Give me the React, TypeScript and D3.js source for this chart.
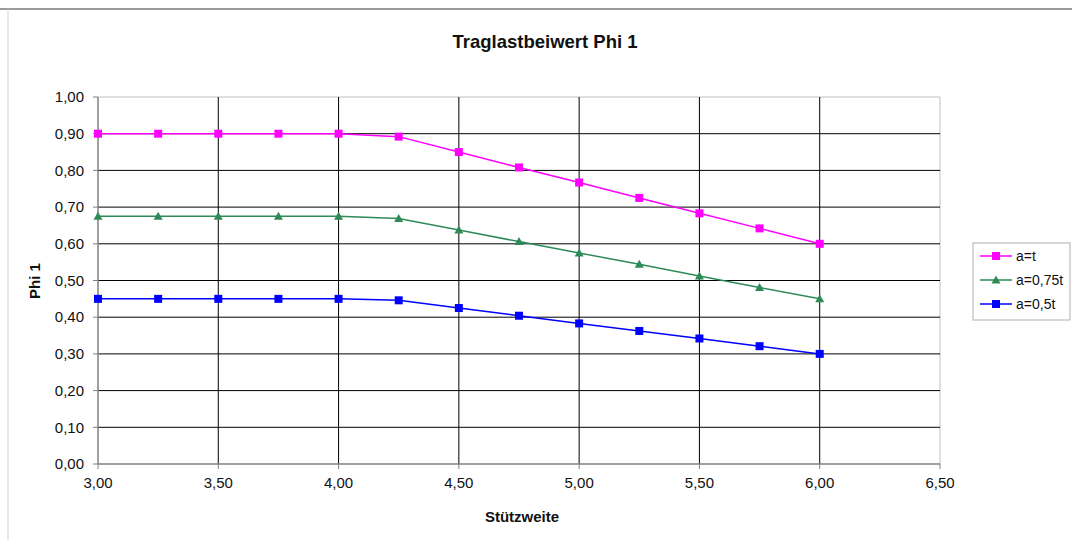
import React from "react";
import * as d3 from "d3";

const xValues = [3.0, 3.25, 3.5, 3.75, 4.0, 4.25, 4.5, 4.75, 5.0, 5.25, 5.5, 5.75, 6.0];
const seriesAT = [0.9, 0.9, 0.9, 0.9, 0.9, 0.892, 0.85, 0.808, 0.767, 0.725, 0.683, 0.642, 0.6];
const seriesA075 = [0.675, 0.675, 0.675, 0.675, 0.675, 0.669, 0.6375, 0.606, 0.575, 0.544, 0.5125, 0.481, 0.45];
const seriesA05 = [0.45, 0.45, 0.45, 0.45, 0.45, 0.446, 0.425, 0.404, 0.383, 0.3625, 0.342, 0.321, 0.3];
const seriesNames = ["a=t", "a=0,75t", "a=0,5t"];
const xTicks = [3.0, 3.5, 4.0, 4.5, 5.0, 5.5, 6.0, 6.5];
const yTicks = [0, 0.1, 0.2, 0.3, 0.4, 0.5, 0.6, 0.7, 0.8, 0.9, 1.0];

const FONT = "'Liberation Sans', Arial, sans-serif";
const fmt = (v: number) => v.toFixed(2).replace(".", ",");

export default function App() {
  const W = 1072, H = 542;
  const left = 98, right = 940, top = 97, bottom = 464;
  const x = d3.scaleLinear().domain([3, 6.5]).range([left, right]);
  const y = d3.scaleLinear().domain([0, 1]).range([bottom, top]);
  const line = d3.line<number>().x((_, i) => x(xValues[i])).y((d) => y(d));

  const series = [
    { name: seriesNames[0], data: seriesAT, color: "#ff00ff", marker: "square" },
    { name: seriesNames[1], data: seriesA075, color: "#2e8b57", marker: "triangle" },
    { name: seriesNames[2], data: seriesA05, color: "#0000ff", marker: "square" },
  ];

  const marker = (kind: string, cx: number, cy: number, color: string, key: any) =>
    kind === "square" ? (
      <rect key={key} x={cx - 4} y={cy - 4} width={8} height={8} fill={color} />
    ) : (
      <path key={key} d={`M${cx},${cy - 4.5}L${cx + 4.5},${cy + 3.5}L${cx - 4.5},${cy + 3.5}Z`} fill={color} />
    );

  return (
    <svg width={W} height={H} style={{ position: "absolute", left: 0, top: 0, background: "#fff" }}>
      <rect x={0} y={0} width={W} height={H} fill="#fff" />
      {/* frame */}
      <line x1={0} x2={W} y1={9} y2={9} stroke="#9a9a9a" strokeWidth={2} />
      <line x1={8} x2={8} y1={9} y2={540} stroke="#d0d0d0" strokeWidth={1} />
      {/* plot border */}
      <line x1={left} x2={right} y1={top} y2={top} stroke="#c0c0c0" />
      <line x1={right} x2={right} y1={top} y2={bottom} stroke="#c0c0c0" />
      {/* grid */}
      {yTicks.filter((t) => t > 0 && t < 1).map((t) => (
        <line key={"gy" + t} x1={left} x2={right} y1={y(t)} y2={y(t)} stroke="#000" strokeWidth={1} />
      ))}
      {xTicks.filter((t) => t > 3 && t < 6.5).map((t) => (
        <line key={"gx" + t} x1={x(t)} x2={x(t)} y1={top} y2={bottom} stroke="#000" strokeWidth={1} />
      ))}
      {/* axes */}
      <line x1={left} x2={left} y1={top} y2={bottom} stroke="#808080" strokeWidth={1.5} />
      <line x1={left} x2={right} y1={bottom} y2={bottom} stroke="#808080" strokeWidth={1.5} />
      {yTicks.map((t) => (
        <g key={"yt" + t}>
          <line x1={left - 5} x2={left} y1={y(t)} y2={y(t)} stroke="#808080" />
          <text x={left - 14} y={y(t)} dy="0.35em" textAnchor="end" fontFamily={FONT} fontSize={15} fill="#111">
            {fmt(t)}
          </text>
        </g>
      ))}
      {xTicks.map((t) => (
        <g key={"xt" + t}>
          <line x1={x(t)} x2={x(t)} y1={bottom} y2={bottom + 5} stroke="#808080" />
          <text x={x(t)} y={488} textAnchor="middle" fontFamily={FONT} fontSize={15} fill="#111">
            {fmt(t)}
          </text>
        </g>
      ))}
      {/* titles */}
      <text x={545} y={48} textAnchor="middle" fontFamily={FONT} fontSize={18.5} fontWeight="bold" fill="#111">
        Traglastbeiwert Phi 1
      </text>
      <text x={522} y={522} textAnchor="middle" fontFamily={FONT} fontSize={15} fontWeight="bold" fill="#111">
        Stützweite
      </text>
      <text transform={`translate(40,281) rotate(-90)`} textAnchor="middle" fontFamily={FONT} fontSize={15} fontWeight="bold" fill="#111">
        Phi 1
      </text>
      {/* series */}
      {series.map((s) => (
        <g key={s.name}>
          <path d={line(s.data) || ""} fill="none" stroke={s.color} strokeWidth={1.5} />
          {s.data.map((v, i) => marker(s.marker, x(xValues[i]), y(v), s.color, i))}
        </g>
      ))}
      {/* legend */}
      <rect x={973} y={243} width={97} height={77} fill="#fff" stroke="#b0b0b0" strokeWidth={1} />
      {series.map((s, i) => {
        const ly = 256 + i * 24;
        return (
          <g key={"lg" + s.name}>
            <line x1={980} x2={1012} y1={ly} y2={ly} stroke={s.color} strokeWidth={1.5} />
            {marker(s.marker, 996, ly, s.color, "m")}
            <text x={1016} y={ly} dy="0.35em" fontFamily={FONT} fontSize={14} fill="#111">
              {s.name}
            </text>
          </g>
        );
      })}
    </svg>
  );
}
